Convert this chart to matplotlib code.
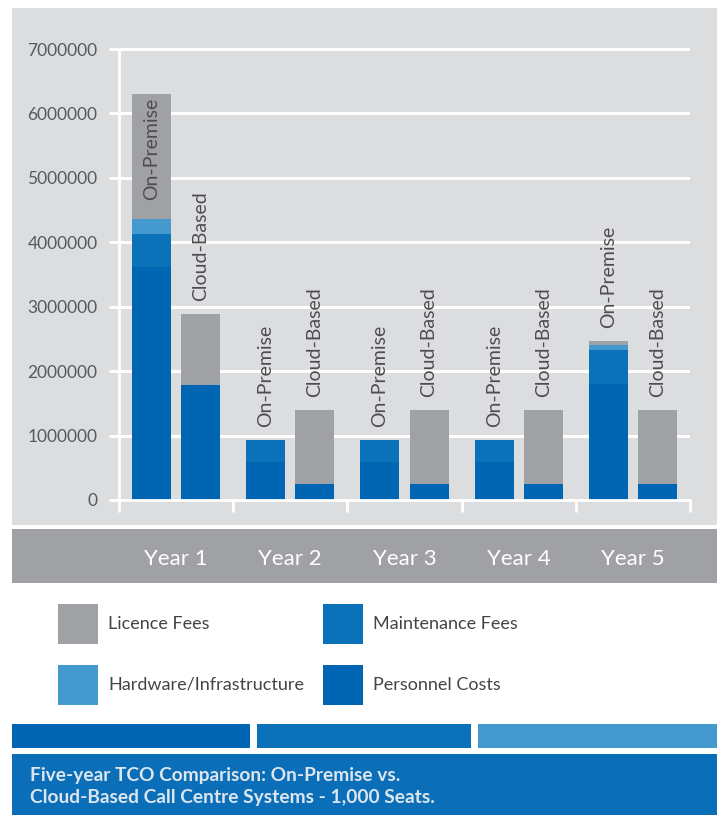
import matplotlib
matplotlib.use("Agg")
import matplotlib.pyplot as plt
import numpy as np
from matplotlib.patches import Rectangle
from matplotlib.transforms import blended_transform_factory

plt.rcParams['font.family'] = ['Lato', 'DejaVu Sans']

# data
years = ['Year 1', 'Year 2', 'Year 3', 'Year 4', 'Year 5']
systems = ['On-Premise', 'Cloud-Based']
# stacked from the bottom up
cost_names = ['Personnel Costs', 'Maintenance Fees', 'Hardware/Infrastructure', 'Licence Fees']

on_premise_personnel = [3620000, 590000, 590000, 590000, 1800000]
on_premise_maintenance = [510000, 340000, 340000, 340000, 530000]
on_premise_hardware = [230000, 0, 0, 0, 80000]
on_premise_licence = [1940000, 0, 0, 0, 60000]

cloud_personnel = [1790000, 250000, 250000, 250000, 250000]
cloud_maintenance = [0, 0, 0, 0, 0]
cloud_hardware = [0, 0, 0, 0, 0]
cloud_licence = [1100000, 1150000, 1150000, 1150000, 1150000]

y_ticks = [0, 1000000, 2000000, 3000000, 4000000, 5000000, 6000000, 7000000]

title_lines = ['Five-year TCO Comparison: On-Premise vs.',
               'Cloud-Based Call Centre Systems - 1,000 Seats.']

# colours
c_personnel = '#0066b3'
c_maint = '#0b71b8'
c_hw = '#4499ce'
c_licence = '#a0a1a4'
cost_colors = [c_personnel, c_maint, c_hw, c_licence]
panel_col = '#dcdddf'
band_col = '#a0a1a5'
banner_col = '#0a6fb8'
text_col = '#58595b'

W, H = 717, 815
fig = plt.figure(figsize=(W / 100, H / 100), dpi=100)

# background decorations in pixel coordinates
bg = fig.add_axes([0, 0, 1, 1], zorder=0)
bg.set_xlim(0, W)
bg.set_ylim(H, 0)
bg.axis('off')
bg.add_patch(Rectangle((12, 8), 705, 517, color=panel_col, lw=0))
bg.add_patch(Rectangle((12, 529), 705, 54, color=band_col, lw=0))
bg.add_patch(Rectangle((12, 724), 238, 24, color=c_personnel, lw=0))
bg.add_patch(Rectangle((257, 724), 214, 24, color=c_maint, lw=0))
bg.add_patch(Rectangle((478, 724), 239, 24, color=c_hw, lw=0))
bg.add_patch(Rectangle((12, 754), 705, 61, color=banner_col, lw=0))

# legend
legend_order = ['Licence Fees', 'Maintenance Fees', 'Hardware/Infrastructure', 'Personnel Costs']
legend_xy = [(58, 604), (323, 604), (58, 665), (323, 665)]
for name, (lx, ly) in zip(legend_order, legend_xy):
    col = cost_colors[cost_names.index(name)]
    bg.add_patch(Rectangle((lx, ly), 40, 40, color=col, lw=0))
    bg.text(lx + 50, ly + 20, name, fontsize=13,
            color='#444446', va='center', ha='left')

for i, line in enumerate(title_lines):
    bg.text(30, 775 + i * 22, line, fontsize=13.8, fontweight='bold',
            color='#dde5ee', va='center', ha='left')

# main chart
px_per_m = 451 / 7.0
ytop = 7050000
ax = fig.add_axes([119 / W, (H - 500) / H, 571 / W, px_per_m * ytop / 1e6 / H], zorder=1)
ax.patch.set_visible(False)
ax.set_xlim(0, 5)
ax.set_ylim(0, ytop)

for s in ['top', 'right']:
    ax.spines[s].set_visible(False)
for s in ['left', 'bottom']:
    ax.spines[s].set_color('white')
    ax.spines[s].set_linewidth(2)
ax.spines['left'].set_bounds(0, 7000000)

ax.set_axisbelow(True)
ax.yaxis.grid(True, color='white', linewidth=2.2)
ax.set_yticks(y_ticks)
ax.set_yticklabels([str(v) for v in y_ticks])
ax.tick_params(axis='y', direction='out', length=7.5, width=2, color='white',
               pad=8, labelsize=12.5, labelcolor=text_col)
ax.set_xticks(range(len(years) + 1))
ax.set_xticklabels([])
ax.tick_params(axis='x', direction='out', length=8.5, width=2, color='white')

centers = np.arange(len(years)) + 0.5
offset = 0.215
bar_w = 0.3415

series = {
    'On-Premise': [on_premise_personnel, on_premise_maintenance, on_premise_hardware, on_premise_licence],
    'Cloud-Based': [cloud_personnel, cloud_maintenance, cloud_hardware, cloud_licence],
}

for k, sys_name in enumerate(systems):
    xs = centers + (offset if k else -offset)
    bottom = np.zeros(len(years))
    for vals, col in zip(series[sys_name], cost_colors):
        vals = np.array(vals, dtype=float)
        ax.bar(xs, vals, bar_w, bottom=bottom, color=col, lw=0)
        bottom += vals
    for x, top in zip(xs, bottom):
        if top > 5000000:
            ax.text(x, top - 50000, sys_name, rotation=90, ha='center', va='top',
                    fontsize=14, color='#4d4d4f')
        else:
            ax.text(x, top + 200000, sys_name, rotation=90, ha='center', va='bottom',
                    fontsize=14, color='#4d4d4f')

trans = blended_transform_factory(ax.transData, fig.transFigure)
for xc, yr in zip(centers, years):
    ax.text(xc, 1 - 559 / H, yr, transform=trans, ha='center', va='center',
            color='white', fontsize=16, clip_on=False)

fig.savefig('out.png', dpi=100)
